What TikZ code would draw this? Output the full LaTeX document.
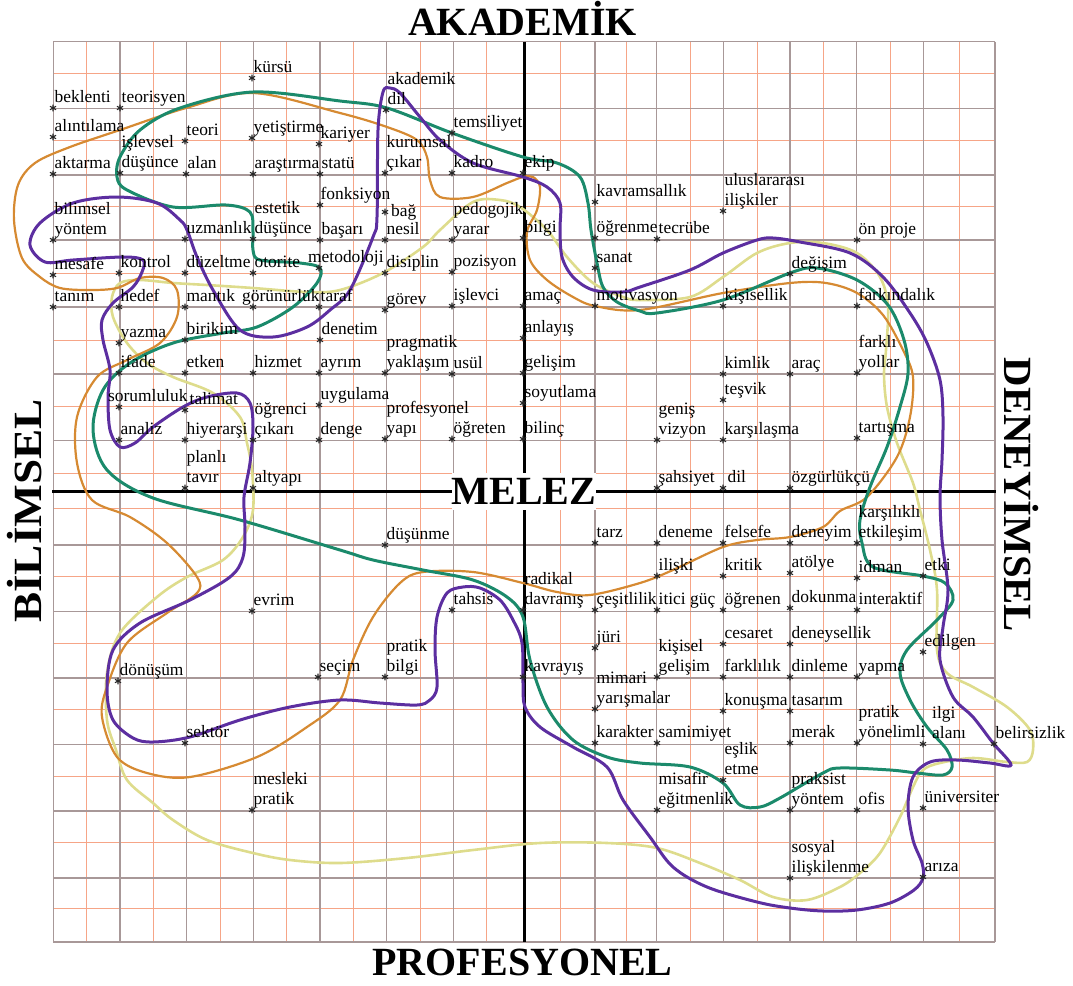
\documentclass[tikz,border=0pt]{standalone}
\usepackage{fontspec}
\usepackage{graphicx}
\setmainfont{Liberation Serif}
\usetikzlibrary{calc}

\definecolor{gridgray}{RGB}{168,152,152}
\definecolor{gridred}{RGB}{246,165,135}
\definecolor{cgreen}{RGB}{27,138,107}
\definecolor{corange}{RGB}{214,138,50}
\definecolor{cpurple}{RGB}{92,46,160}
\definecolor{cyellow}{RGB}{222,220,140}

% two-line label, baseline at the second line
\newcommand\twoline[2]{\vbox{\baselineskip=20.5pt\hbox{#1}\hbox{#2}}}
% concept: [text shift], name, x, y (asterisk position), text
\newcommand\kavram[5][0]{%
  \pic at (#3,#4) {asterisk};
  \node[lbl] (#2) at ({#3+1.5+(#1)},{#4-5.5}) {#5};}

\tikzset{
  asterisk/.pic={\draw[line width=1.1pt,black!85]
      (0,-3.4)--(0,3.4) (-3,-1.7)--(3,1.7) (-3,1.7)--(3,-1.7);},
  lbl/.style={anchor=base west,inner sep=0pt,font=\fontsize{17.4}{20.5}\selectfont},
  title/.style={inner sep=0pt,text height=26.5pt,text depth=0pt,
      font=\bfseries\fontsize{40}{40}\selectfont},
  gline/.style={draw=gridgray,line width=1.3pt},
  rline/.style={draw=gridred,line width=0.9pt},
  axisline/.style={draw=black,line width=3pt},
  cgreenline/.style={draw=cgreen,line width=3pt},
  corangeline/.style={draw=corange,line width=2.2pt},
  cpurpleline/.style={draw=cpurple,line width=3pt},
  cyellowline/.style={draw=cyellow,line width=2.6pt},
}

\begin{document}
\begin{tikzpicture}[x=1pt,y=-1pt]
\useasboundingbox (0,0) rectangle (1073,985);

% ---- grid ----
\foreach \x in {86.7,153.3,220,286.7,353.3,420,486.7,560,626,690,757,823,890,959}
  \draw[rline] (\x,41.7) -- (\x,942);
\foreach \y in {73.3,140,206.7,273.3,340,406.7,473.3,508.3,576,643,709,776,842,908}
  \draw[rline] (53.3,\y) -- (995,\y);
\foreach \x in {53.3,120,186.7,253.3,320,386.7,453.3,595,656.7,723.3,790,856.7,923.3,995}
  \draw[gline] (\x,41.7) -- (\x,942);
\foreach \y in {41.7,108.3,175,240,307,374,440.7,545,611.5,678,744.5,811,878,942}
  \draw[gline] (53.3,\y) -- (995,\y);

% ---- axes ----
\coordinate (axT) at (524,41.7);
\coordinate (axB) at (524,942);
\coordinate (axL) at (52,491.7);
\coordinate (axR) at (996,491.7);
\draw[axisline] (axT) -- (axB);
\draw[axisline] (axL) -- (axR);

% ---- closed curves ----
\draw[cyellowline] plot[smooth cycle,tension=0.55] coordinates {
 (340,290) (383,273) (423,247) (440,230) (473,202) (500,200) (520,207) (547,230)
 (567,257) (593,283) (623,297) (640,300) (690,297) (723,277) (757,253) (790,243)
 (823,243) (857,253) (880,277) (888,307) (886,350) (884,375) (887,407) (897,443)
 (913,483) (920,510) (930,550) (937,590) (937,650) (947,673) (973,687) (1007,707)
 (1030,730) (1033,750) (1027,762) (1007,762) (973,758) (940,763) (923,770) (913,787)
 (900,817) (880,853) (860,873) (840,887) (807,900) (773,897) (740,880) (700,863)
 (657,848) (607,843) (540,843) (473,850) (407,858) (340,863) (290,860) (253,853)
 (207,840) (173,820) (153,803) (127,780) (116,750) (107,720) (107,673) (120,633)
 (157,597) (187,577) (223,560) (243,537) (253,510) (252,470) (247,443) (240,417)
 (213,393) (173,377) (147,363) (127,343) (113,317) (112,297) (120,283) (140,280)
 (173,283) (207,285) (253,288) (307,292)};

\draw[corangeline] plot[smooth cycle,tension=0.55] coordinates {
 (120,130) (186,108) (253,93) (340,113) (387,127) (417,140) (427,157) (430,180)
 (440,197) (473,197) (507,183) (523,177) (533,177) (540,187) (537,210) (527,232)
 (530,260) (547,280) (573,297) (595,306) (640,310) (723,293) (790,283) (826,283)
 (857,293) (883,315) (903,350) (913,377) (910,417) (897,457) (867,497) (840,511)
 (823,527) (790,537) (757,540) (723,547) (673,570) (640,583) (590,595) (557,592)
 (523,583) (473,572) (423,572) (400,583) (373,617) (353,660) (340,700) (307,727)
 (257,757) (190,777) (147,773) (117,757) (102,717) (107,687) (127,643) (167,613)
 (197,593) (197,577) (167,543) (130,517) (92,500) (77,463) (77,417) (97,377)
 (127,360) (160,343) (177,317) (177,290) (163,278) (140,278) (117,288) (90,290)
 (60,288) (40,277) (22,258) (14,220) (18,185) (35,163) (70,147)};

\draw[cgreenline] plot[smooth cycle,tension=0.55] coordinates {
 (253,232) (250,212) (226,205) (173,207) (127,190) (117,177) (120,157) (140,130)
 (180,108) (253,92) (340,101) (387,108) (452,133) (523,157) (557,163) (580,177)
 (588,203) (591,230) (597,263) (603,287) (617,302) (640,311) (657,313) (723,300)
 (790,273) (817,268) (857,280) (888,305) (904,340) (908,373) (900,407) (887,447)
 (870,487) (860,520) (862,543) (873,567) (923,576) (945,583) (953,600) (937,620)
 (907,650) (900,673) (910,700) (927,727) (947,750) (952,767) (943,775) (917,773)
 (890,770) (840,768) (823,773) (780,798) (760,807) (740,805) (723,783) (690,767)
 (640,763) (607,757) (573,740) (547,707) (530,660) (523,617) (507,597) (473,580)
 (423,570) (373,560) (340,550) (240,520) (153,498) (107,470) (93,430) (103,390)
 (130,363) (173,343) (223,333) (257,327) (293,307) (317,283) (320,268) (300,263)
 (260,260) (253,250)};

\draw[cpurpleline] plot[smooth cycle,tension=0.55] coordinates {
 (180,220) (157,203) (117,197) (73,203) (40,223) (30,245) (45,262) (73,260)
 (123,257) (143,260) (142,272) (133,287) (113,303) (102,320) (103,340) (110,370)
 (108,397) (110,430) (120,447) (135,443) (153,427) (183,407) (207,397) (237,393)
 (250,403) (253,427) (250,463) (244,497) (245,527) (243,557) (230,577) (190,600)
 (140,623) (113,650) (107,690) (113,720) (133,738) (153,742) (190,737) (240,720)
 (290,707) (340,700) (380,703) (417,705) (430,700) (437,687) (435,650) (437,617)
 (447,593) (463,587) (480,588) (500,600) (513,620) (522,643) (523,683) (525,707)
 (540,727) (573,747) (607,767) (623,800) (650,837) (673,867) (707,887) (757,902)
 (790,908) (823,911) (857,910) (890,903) (914,890) (923,878) (922,863) (913,840)
 (908,807) (913,777) (930,762) (957,760) (990,763) (1011,765) (993,743) (973,717)
 (953,697) (940,660) (943,627) (948,590) (942,540) (940,497) (942,460) (943,417)
 (940,380) (927,343) (910,313) (883,277) (850,253) (800,242) (773,238) (757,240)
 (723,253) (690,270) (640,287) (623,292) (593,290) (573,277) (562,257) (560,230)
 (560,203) (547,187) (523,177) (473,163) (440,140) (420,117) (400,93) (390,88)
 (383,92) (378,130) (377,217) (373,237) (350,290) (330,310) (307,327) (273,337)
 (240,330) (213,290) (197,257) (187,230)};

% ---- concepts, upper half ----
\kavram{beklenti}{53}{108}{beklenti}
\kavram{teorisyen}{120}{108}{teorisyen}
\kavram{kursu}{252}{78}{kürsü}
\kavram{akdil}{386}{110}{\twoline{akademik}{dil}}
\kavram{temsiliyet}{452}{133}{temsiliyet}
\kavram{alinti}{53}{137}{alıntılama}
\kavram{islevsel}{120}{173}{\twoline{işlevsel}{düşünce}}
\kavram{teori}{185}{141}{teori}
\kavram{yetistirme}{252}{138}{yetiştirme}
\kavram{kariyer}{319}{144}{kariyer}
\kavram{kurumsal}{385}{173}{\twoline{kurumsal}{çıkar}}
\kavram{aktarma}{53}{174}{aktarma}
\kavram{alan}{186}{174}{alan}
\kavram{arastirma}{253}{174}{araştırma}
\kavram{statu}{320}{174}{statü}
\kavram{kadro}{452}{173}{kadro}
\kavram{ekip}{523}{173}{ekip}
\kavram{kavramsal}{595}{202}{kavramsallık}
\kavram{uluslar}{723}{211}{\twoline{uluslararası}{ilişkiler}}
\kavram{bilyontem}{53}{240}{\twoline{bilimsel}{yöntem}}
\kavram{uzmanlik}{185}{239}{uzmanlık}
\kavram{estetik}{253}{239}{\twoline{estetik}{düşünce}}
\kavram[-1]{fonksiyon}{320}{205}{fonksiyon}
% "bag" sits beside its asterisk rather than above it
\pic at (385,212) {asterisk};
\node[lbl] (bag) at (391,216) {bağ};
\kavram{basari}{320}{240}{başarı}
\kavram{nesil}{385}{240}{nesil}
\kavram{pedogojik}{452}{240}{\twoline{pedogojik}{yarar}}
\kavram{bilgi}{523}{238}{bilgi}
\kavram{ogrenme}{595}{238}{öğrenme}
\kavram{tecrube}{657}{239}{tecrübe}
\kavram{onproje}{857}{240}{ön proje}
\kavram{mesafe}{53}{275}{mesafe}
\kavram{kontrol}{119}{273}{kontrol}
\kavram{duzeltme}{185}{273}{düzeltme}
\kavram{otorite}{253}{273}{otorite}
\kavram[-12.5]{metodoloji}{319}{268}{metodoloji}
\kavram{disiplin}{385}{273}{disiplin}
\kavram{pozisyon}{452}{272}{pozisyon}
\kavram{sanat}{595}{268}{sanat}
\kavram{degisim}{790}{274}{değişim}
\kavram{tanim}{53}{307}{tanım}
\kavram{hedef}{119}{307}{hedef}
\kavram{mantik}{185}{307}{mantık}
\kavram[-12.5]{gorunurluk}{253}{307}{görünürlük}
\kavram{taraf}{319}{307}{taraf}
\kavram{gorev}{385}{310}{görev}
\kavram{islevci}{452}{306}{işlevci}
\kavram{amac}{523}{306}{amaç}
\kavram{motivasyon}{595}{306}{motivasyon}
\kavram{kisisellik}{723}{306}{kişisellik}
\kavram{farkindalik}{857}{306}{farkındalık}
\kavram{yazma}{119}{343}{yazma}
\kavram{birikim}{185}{340}{birikim}
\kavram{denetim}{320}{340}{denetim}
\kavram{pragmatik}{385}{373}{\twoline{pragmatik}{yaklaşım}}
\kavram{anlayis}{523}{338}{anlayış}
\kavram{ifade}{119}{373}{ifade}
\kavram{etken}{185}{373}{etken}
\kavram{hizmet}{253}{373}{hizmet}
\kavram{ayrim}{319}{373}{ayrım}
\kavram{usul}{452}{374}{usül}
\kavram{gelisim}{523}{373}{gelişim}
\kavram{kimlik}{723}{374}{kimlik}
\kavram{arac}{790}{374}{araç}
\kavram{farkli}{857}{373}{\twoline{farklı}{yollar}}
\kavram[-12.5]{sorumluluk}{119}{407}{sorumluluk}
\kavram[3]{talimat}{185}{410}{talimat}
\kavram{ogrenci}{253}{440}{\twoline{öğrenci}{çıkarı}}
\kavram{uygulama}{319}{405}{uygulama}
\kavram{soyutlama}{523}{403}{soyutlama}
\kavram{tesvik}{723}{400}{teşvik}
\kavram{profyapi}{385}{439}{\twoline{profesyonel}{yapı}}
\kavram{analiz}{119}{440}{analiz}
\kavram{hiyerarsi}{185}{440}{hiyerarşi}
\kavram{denge}{319}{440}{denge}
\kavram{ogreten}{452}{439}{öğreten}
\kavram{bilinc}{523}{439}{bilinç}
\kavram{genis}{657}{440}{\twoline{geniş}{vizyon}}
\kavram{karsilasma}{723}{440}{karşılaşma}
\kavram{tartisma}{857}{438}{tartışma}
\kavram{planli}{185}{488}{\twoline{planlı}{tavır}}
\kavram{altyapi}{253}{488}{altyapı}
\kavram{sahsiyet}{657}{488}{şahsiyet}
\kavram[3]{dil}{723}{488}{dil}
\kavram{ozgurlukcu}{790}{488}{özgürlükçü}

% ---- concepts, lower half ----
\kavram{dusunme}{385}{545}{düşünme}
\kavram{tarz}{595}{543}{tarz}
\kavram{deneme}{657}{543}{deneme}
\kavram{felsefe}{723}{543}{felsefe}
\kavram{deneyim}{790}{543}{deneyim}
\kavram{karsilikli}{857}{543}{\twoline{karşılıklı}{etkileşim}}
\kavram{iliski}{657}{576}{ilişki}
\kavram{kritik}{723}{576}{kritik}
\kavram{atolye}{790}{573}{atölye}
\kavram{idman}{857}{578}{idman}
\kavram{etki}{923}{576}{etki}
\kavram{radikal}{523}{610}{\twoline{radikal}{davranış}}
\kavram{cesitlilik}{595}{610}{çeşitlilik}
\kavram{itici}{657}{610}{itici güç}
\kavram{ogrenen}{723}{610}{öğrenen}
\kavram{dokunma}{790}{608}{dokunma}
\kavram{interaktif}{857}{610}{interaktif}
\kavram{tahsis}{452}{610}{tahsis}
\kavram{evrim}{252}{611}{evrim}
\kavram{juri}{595}{648}{jüri}
\kavram{cesaret}{723}{644}{cesaret}
\kavram{deneysellik}{790}{644}{deneysellik}
\kavram{edilgen}{923}{652}{edilgen}
\kavram{kisisel}{657}{677}{\twoline{kişisel}{gelişim}}
\kavram{farklilik}{723}{677}{farklılık}
\kavram{dinleme}{790}{677}{dinleme}
\kavram{yapma}{857}{677}{yapma}
\kavram{donusum}{118}{681}{dönüşüm}
\kavram{secim}{318}{677}{seçim}
\kavram{pratikbilgi}{385}{677}{\twoline{pratik}{bilgi}}
\kavram{kavrayis}{523}{677}{kavrayış}
\kavram{mimari}{595}{709}{\twoline{mimari}{yarışmalar}}
\kavram{konusma}{723}{711}{konuşma}
\kavram{tasarim}{790}{711}{tasarım}
\kavram{pratikyon}{857}{743}{\twoline{pratik}{yönelimli}}
\kavram[7.5]{ilgi}{923}{744}{\twoline{ilgi}{alanı}}
\kavram{belirsizlik}{994}{744}{belirsizlik}
\kavram{sektor}{185}{743}{sektör}
\kavram{karakter}{595}{743}{karakter}
\kavram{samimiyet}{657}{743}{samimiyet}
\kavram{merak}{790}{743}{merak}
\kavram{eslik}{723}{780}{\twoline{eşlik}{etme}}
\kavram{misafir}{657}{810}{\twoline{misafir}{eğitmenlik}}
\kavram{praksist}{790}{810}{\twoline{praksist}{yöntem}}
\kavram{ofis}{857}{810}{ofis}
\kavram{universiter}{923}{808}{üniversiter}
\kavram{mesleki}{252}{810}{\twoline{mesleki}{pratik}}
\kavram{sosyal}{790}{878}{\twoline{sosyal}{ilişkilenme}}
\kavram{ariza}{923}{877}{arıza}

% ---- axis titles ----
\node[title] (tAkademik) at (522.5,22) {AKADEMİK};
\node[title] (tProfesyonel) at (522.5,962) {PROFESYONEL};
\node[title,rotate=90] (tBilimsel) at (28,511) {\scalebox{1.13}[1]{BİLİMSEL}};
\node[title,rotate=-90] (tDeneyimsel) at (1018,495) {\scalebox{1.02}[1]{DENEYİMSEL}};
\node[title,fill=white,minimum width=144pt,minimum height=37pt] (tMelez) at (524,491.5) {MELEZ};
\end{tikzpicture}
\end{document}
